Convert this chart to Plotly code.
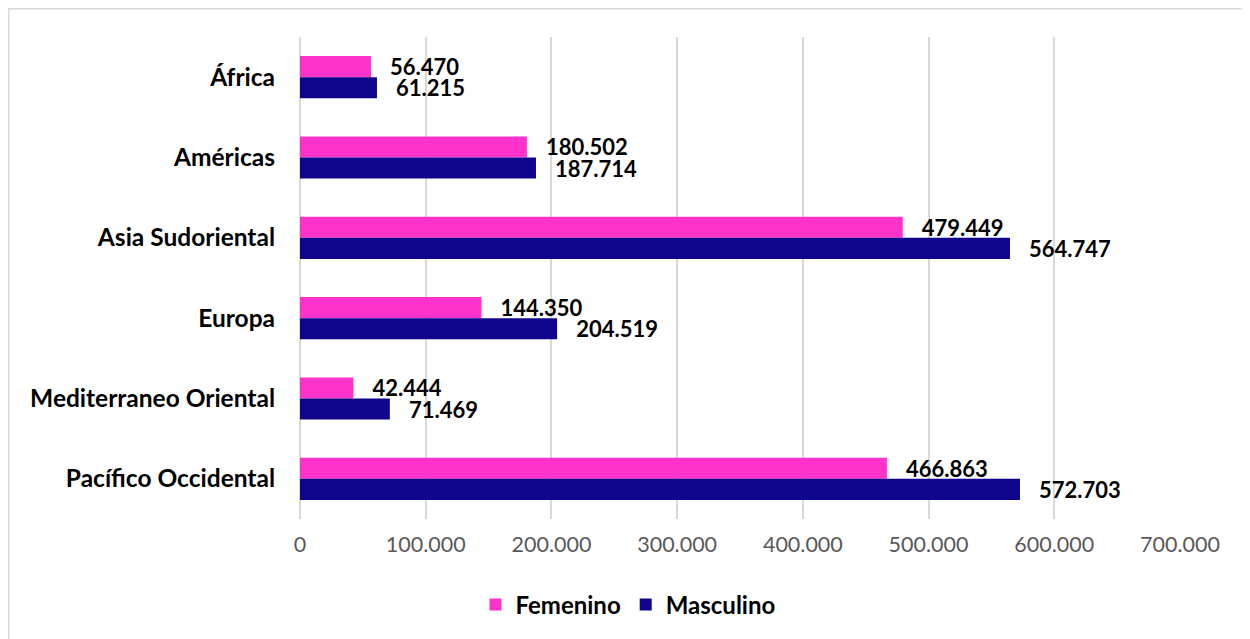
import plotly.graph_objects as go

regions = ["África", "Américas", "Asia Sudoriental", "Europa",
           "Mediterraneo Oriental", "Pacífico Occidental"]
femenino = [56470, 180502, 479449, 144350, 42444, 466863]
masculino = [61215, 187714, 564747, 204519, 71469, 572703]

FONT = "Lato"
OFF = 8  # page body margin in the browser
W, H = 1250 - OFF, 639 - OFF
L = 300 - OFF
T = 37 - OFF
pw = 880
ph = 519 - 37
R = W - L - pw
B = H - T - ph

label_font = dict(family=FONT, size=22, color="black", weight="bold")

fig = go.Figure()
for name, vals, col in [("Femenino", femenino, "#FF33CC"),
                        ("Masculino", masculino, "#0F058C")]:
    fig.add_trace(go.Bar(
        y=regions, x=vals, orientation="h", name=name,
        marker=dict(color=col, line=dict(width=0)),
        texttemplate="\u00a0\u00a0\u00a0%{x:,d}", textposition="outside",
        constraintext="none", textfont=label_font, cliponaxis=False,
    ))

fig.update_layout(
    width=W, height=H,
    margin=dict(l=L, r=R, t=T, b=B, autoexpand=False),
    paper_bgcolor="white", plot_bgcolor="white",
    separators=",.",
    barmode="group", bargap=0.475, bargroupgap=0,
    font=dict(family=FONT),
    xaxis=dict(range=[0, 700000], dtick=100000, tickformat=",d",
               showgrid=True, gridcolor="#D9D9D9", gridwidth=1.5,
               zeroline=True, zerolinecolor="#D9D9D9", zerolinewidth=1.5,
               showline=False, ticks="", ticklabelstandoff=10,
               tickfont=dict(family=FONT, size=21.5, color="#595959")),
    yaxis=dict(autorange="reversed", showgrid=False, zeroline=False,
               showline=False, ticks="", ticklabelstandoff=24,
               tickfont=dict(family=FONT, size=24.5, color="black", weight="bold")),
    legend=dict(orientation="h", x=(628 - OFF - L) / pw, xanchor="center",
                y=-(605 - 519) / ph, yanchor="middle",
                font=dict(family=FONT, size=24, color="black", weight="bold"),
                itemwidth=30, traceorder="normal"),
    showlegend=True,
    shapes=[dict(type="rect", xref="paper", yref="paper",
                 x0=(0.75 - L) / pw, x1=(1243 - OFF - L) / pw,
                 y0=-(B + 5) / ph, y1=1 + (T - 0.75) / ph,
                 line=dict(color="#D9D9D9", width=1.5), fillcolor="rgba(0,0,0,0)",
                 layer="below")],
)
fig.write_html("out.html")
